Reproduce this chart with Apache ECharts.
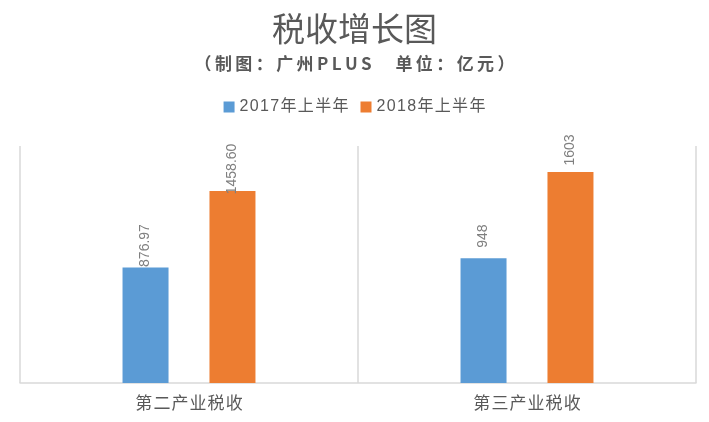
<!DOCTYPE html>
<html><head><meta charset="utf-8">
<script src="https://cdn.jsdelivr.net/npm/echarts@6/dist/echarts.min.js"></script>
<style>html,body{margin:0;padding:0;background:#fff}#c{width:709px;height:422px}</style>
</head><body><div id="c"></div>
<script>
var categories = ['第二产业税收', '第三产业税收'];
var seriesNames = ['2017年上半年', '2018年上半年'];
var values2017 = [876.97, 948];
var values2018 = [1458.60, 1603];
var labels2017 = ['876.97', '948'];
var labels2018 = ['1458.60', '1603'];
var titleText = '税收增长图';
var subtitleText = '（制图：广州PLUS\u3000单位：亿元）';

function spaced(s, sp) { return Array.from(s).join(sp); }

var chart = echarts.init(document.getElementById('c'));
var labelBase = {
  show: true, position: 'top', rotate: 90, align: 'center', verticalAlign: 'middle',
  distance: 22, color: '#7f7f7f', fontSize: 14, fontFamily: 'Liberation Sans, Arial, sans-serif'
};
chart.setOption({
  animation: false,
  title: [{
    text: titleText, left: 'center', top: 7,
    textStyle: {fontSize: 33, fontWeight: 'normal', color: '#595959', fontFamily: 'Noto Sans CJK SC'}
  }, {
    text: spaced(subtitleText, '\u2009'), left: 'center', top: 50,
    textStyle: {fontSize: 17, fontWeight: 'bold', color: '#595959', fontFamily: 'Noto Sans CJK SC'}
  }],
  legend: {
    data: seriesNames, top: 94, left: 'center', itemWidth: 11, itemHeight: 11, itemGap: 12,
    icon: 'rect',
    formatter: function(n){ return spaced(n, '\u200A'); },
    textStyle: {fontSize: 16, color: '#595959', fontFamily: 'Liberation Sans, Noto Sans CJK SC'}
  },
  grid: {left: 20, right: 13, top: 146, bottom: 39, containLabel: false},
  xAxis: {
    type: 'category', data: categories,
    axisLine: {lineStyle: {color: '#d9d9d9', width: 1.5}},
    axisTick: {show: false},
    splitLine: {show: true, lineStyle: {color: '#d9d9d9', width: 1.5}},
    axisLabel: {fontSize: 17, color: '#595959', margin: 11, fontFamily: 'Noto Sans CJK SC',
      formatter: function(v){ return spaced(v, '\u200A'); }}
  },
  yAxis: {
    type: 'value', min: 0, max: 1800, show: false, splitLine: {show: false}
  },
  series: [{
    name: seriesNames[0], type: 'bar', data: values2017, barWidth: 46, barGap: '89%',
    itemStyle: {color: '#5B9BD5'},
    label: Object.assign({}, labelBase, {formatter: function(p){return labels2017[p.dataIndex];}})
  }, {
    name: seriesNames[1], type: 'bar', data: values2018, barWidth: 46,
    itemStyle: {color: '#ED7D31'},
    label: Object.assign({}, labelBase, {formatter: function(p){return labels2018[p.dataIndex];}})
  }]
});
</script></body></html>
